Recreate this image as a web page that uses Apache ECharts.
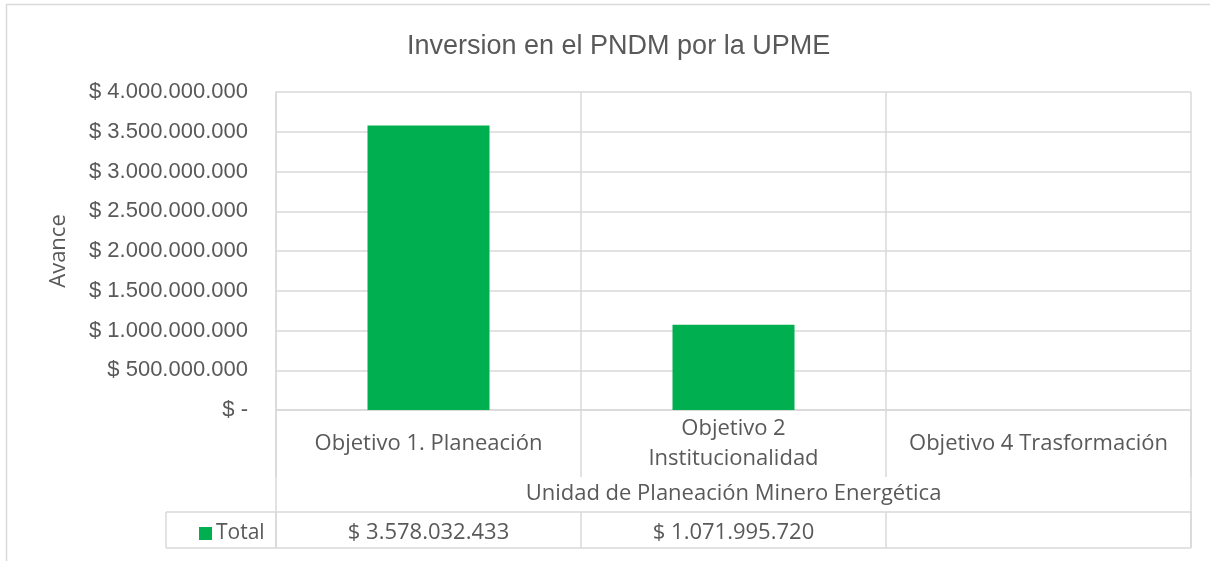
<!DOCTYPE html>
<html style="height: 100%">
<head>
    <meta charset="utf-8">
</head>
<body style="height: 100%; margin: 0">
    <div id="container" style="width: 1210px; height: 561px"></div>

    <script type="text/javascript" src="https://cdn.jsdelivr.net/npm/echarts@6/dist/echarts.min.js"></script>
    <script type="text/javascript">
        // data
        var categories = ['Objetivo 1. Planeación', 'Objetivo 2\nInstitucionalidad', 'Objetivo 4 Trasformación'];
        var totals = [3578032433, 1071995720, null];
        var groupName = 'Unidad de Planeación Minero Energética';
        var seriesName = 'Total';
        var yMin = 0, yMax = 4000000000, yStep = 500000000;

        var gridLine = '#d9d9d9';
        var textColor = '#595959';
        var plotL = 276, plotR = 1191, plotB = 410;

        function money(v) {
            if (v == null) return '';
            if (v === 0) return '$ -';
            return '$ ' + String(Math.round(v)).replace(/\B(?=(\d{3})+(?!\d))/g, '.');
        }

        var dom = document.getElementById("container");
        var myChart = echarts.init(dom);

        var line = function (x1, y1, x2, y2) {
            return { type: 'line', shape: { x1: x1, y1: y1, x2: x2, y2: y2 },
                     style: { stroke: gridLine, lineWidth: 1.5 }, silent: true };
        };

        var option = {
            backgroundColor: '#fff',
            animation: false,
            title: {
                text: 'Inversion en el PNDM por la UPME',
                left: 402,
                top: 28,
                textStyle: { fontFamily: 'Liberation Sans', fontSize: 27, fontWeight: 'normal', color: textColor }
            },
            legend: {
                data: [seriesName],
                left: 194,
                top: 518,
                icon: 'rect',
                itemWidth: 13,
                itemHeight: 13,
                itemGap: 6,
                textStyle: { fontFamily: 'Open Sans', fontSize: 21, color: textColor, padding: [0, 0, 0, -1] }
            },
            grid: { left: plotL, right: 1210 - plotR, top: 92, bottom: 561 - plotB, containLabel: false },
            xAxis: [
                {
                    type: 'category',
                    data: categories,
                    position: 'bottom',
                    name: groupName,
                    nameLocation: 'middle',
                    nameGap: 84,
                    nameTextStyle: { fontFamily: 'Open Sans', fontSize: 22, color: textColor, verticalAlign: 'middle' },
                    axisLine: { show: true, lineStyle: { color: gridLine, width: 1.5 } },
                    axisTick: { show: true, length: 67, lineStyle: { color: gridLine, width: 1.5 } },
                    splitLine: { show: true, lineStyle: { color: gridLine, width: 1.5 } },
                    axisLabel: {
                        margin: 34, verticalAlign: 'middle', lineHeight: 30,
                        fontFamily: 'Open Sans', fontSize: 22, color: textColor, interval: 0
                    }
                },
                {
                    type: 'category',
                    data: totals.map(money),
                    position: 'bottom',
                    offset: 102,
                    axisLine: { show: true, lineStyle: { color: gridLine, width: 1.5 } },
                    axisTick: { show: true, length: 36, lineStyle: { color: gridLine, width: 1.5 } },
                    splitLine: { show: false },
                    axisLabel: {
                        margin: 21, verticalAlign: 'middle',
                        fontFamily: 'Open Sans', fontSize: 22, color: textColor, interval: 0
                    }
                }
            ],
            yAxis: {
                type: 'value',
                min: yMin,
                max: yMax,
                interval: yStep,
                name: 'Avance',
                nameLocation: 'middle',
                nameGap: 206,
                nameTextStyle: { fontFamily: 'Open Sans', fontSize: 22, color: textColor },
                axisLine: { show: true, lineStyle: { color: gridLine, width: 1.5 } },
                axisTick: { show: false },
                splitLine: { show: true, lineStyle: { color: gridLine, width: 1.5 } },
                axisLabel: {
                    margin: 28,
                    fontFamily: 'Liberation Sans', fontSize: 22, color: textColor,
                    formatter: money
                }
            },
            series: [
                {
                    name: seriesName,
                    type: 'bar',
                    xAxisIndex: 0,
                    data: totals,
                    barWidth: '40%',
                    itemStyle: { color: '#00b050' }
                }
            ],
            graphic: [
                { type: 'rect', shape: { x: 6.5, y: 4.5, width: 1300, height: 700 },
                  style: { fill: 'none', stroke: gridLine, lineWidth: 1.5 }, silent: true, z: -1 },
                line(plotL, plotB, plotL, 548),
                line(plotR, plotB, plotR, 548),
                line(166, 512, plotL, 512),
                line(166, 548, plotR, 548),
                line(166, 512, 166, 548)
            ]
        };
        myChart.setOption(option);
    </script>
</body>
</html>
